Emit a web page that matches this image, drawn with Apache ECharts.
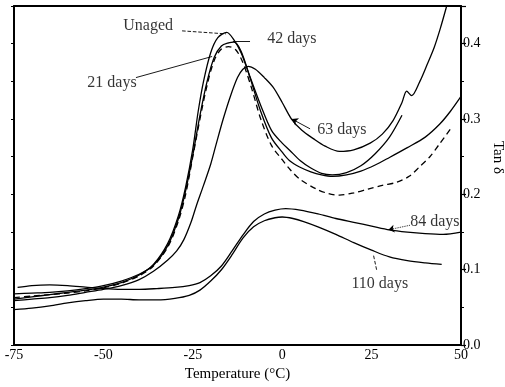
<!DOCTYPE html>
<html>
<head>
<meta charset="utf-8">
<script src="https://cdn.jsdelivr.net/npm/echarts@6/dist/echarts.min.js"></script>
<style>
html,body{margin:0;padding:0;background:#fff;}
#c{width:505px;height:387px;}
</style>
</head>
<body>
<div id="c"></div>
<script>
// ---- data (temperature °C, tan δ) ----
const unaged = [[-75,0.061],[-70,0.064],[-65,0.067],[-60,0.070],[-55,0.073],[-50,0.077],[-45,0.083],[-40,0.093],[-36,0.107],[-32,0.135],[-29,0.172],[-27,0.21],[-25,0.26],[-23.5,0.31],[-22,0.35],[-20,0.388],[-18,0.408],[-15.5,0.415],[-13.5,0.405],[-11.5,0.388],[-9,0.356],[-6,0.318],[-3,0.285],[0,0.268],[2,0.259],[5,0.245],[8,0.235],[11,0.228],[14,0.226],[18,0.229],[22,0.238],[26,0.254],[30,0.276],[33.5,0.305]];
const days21 = [[-75,0.063],[-70,0.065],[-65,0.067],[-60,0.069],[-55,0.072],[-50,0.076],[-45,0.082],[-40,0.092],[-36,0.105],[-32,0.13],[-29,0.165],[-27,0.2],[-25,0.25],[-23,0.3],[-21,0.345],[-19,0.378],[-17,0.393],[-15,0.396],[-13,0.392],[-11,0.375],[-8.5,0.34],[-6,0.3],[-3,0.265],[0,0.246],[2.2,0.233],[5,0.22],[9.6,0.207],[13,0.201],[16,0.199],[20,0.202],[24,0.207],[28,0.212],[32,0.216],[35.5,0.224],[38.5,0.237],[41.3,0.25],[44,0.267],[47.4,0.289]];
const days42 = [[-75,0.068],[-70,0.069],[-65,0.070],[-60,0.072],[-55,0.075],[-50,0.079],[-45,0.085],[-40,0.094],[-36,0.106],[-32,0.132],[-29,0.168],[-27,0.205],[-25,0.252],[-23,0.305],[-21,0.35],[-19,0.382],[-17,0.397],[-15,0.401],[-13.5,0.402],[-11.5,0.39],[-9,0.355],[-6,0.31],[-3,0.275],[0,0.256],[2,0.245],[5,0.236],[8,0.23],[11,0.226],[14,0.224],[18,0.226],[22,0.231],[26,0.239],[30,0.249],[35,0.262],[40,0.276],[44,0.293],[47,0.31],[50,0.33]];
const days63 = [[-75,0.059],[-70,0.061],[-65,0.063],[-60,0.066],[-55,0.07],[-50,0.074],[-45,0.079],[-40,0.087],[-36,0.098],[-32,0.113],[-29.5,0.125],[-27.5,0.14],[-25.5,0.163],[-24,0.185],[-22,0.212],[-20,0.24],[-18.5,0.266],[-16.5,0.3],[-14.5,0.33],[-12.5,0.355],[-11,0.366],[-9.5,0.37],[-7.5,0.366],[-5,0.355],[-2.5,0.342],[0,0.322],[2.6,0.30],[5.5,0.285],[8.7,0.274],[12,0.264],[16,0.257],[20,0.259],[24.6,0.268],[28,0.28],[31,0.298],[33.5,0.322],[34.8,0.337],[36.2,0.331],[38.5,0.35],[40.5,0.372],[42.5,0.395],[44.2,0.42],[46,0.45]];
const days84 = [[-74,0.0765],[-70,0.079],[-65,0.08],[-60,0.079],[-55,0.077],[-50,0.075],[-45,0.074],[-40,0.074],[-35,0.075],[-30,0.0765],[-26,0.079],[-23,0.083],[-20,0.092],[-17,0.105],[-14,0.125],[-11,0.146],[-8,0.164],[-5,0.174],[-2,0.179],[1,0.181],[5,0.179],[10,0.174],[15,0.168],[20,0.163],[25,0.158],[30,0.153],[35,0.15],[40,0.148],[45,0.147],[50,0.15]];
const days110 = [[-75,0.047],[-70,0.049],[-65,0.052],[-60,0.056],[-55,0.059],[-50,0.061],[-45,0.061],[-40,0.06],[-35,0.06],[-30,0.062],[-26,0.066],[-23,0.073],[-20,0.085],[-17,0.1],[-14,0.12],[-11,0.142],[-8,0.157],[-5,0.165],[-2,0.169],[0,0.17],[3,0.168],[6,0.164],[10,0.157],[15,0.147],[20,0.136],[25,0.126],[30,0.117],[35,0.112],[40,0.109],[44.6,0.107]];

const xTicks = [-75, -50, -25, 0, 25, 50];
const yTicks = [0.0, 0.1, 0.2, 0.3, 0.4];

// annotation labels (data coordinates) and leader lines
const labelNames = ['Unaged', '42 days', '21 days', '63 days', '84 days', '110 days'];
const labelPos = [[-37.5,0.424],[2.7,0.407],[-47.6,0.348],[16.7,0.286],[42.7,0.163],[27.3,0.081]];
const leaderFrom = [[-28.0,0.417],[-13.8,0.403],[-40.9,0.355],[7.8,0.287],[35.7,0.159],[26.4,0.100]];
const leaderTo   = [[-15.7,0.413],[-9.0,0.403],[-19.6,0.383],[2.7,0.30],[29.7,0.153],[25.5,0.12]];
const leaderType = ['dashed','solid','solid','solid','dotted','dashed'];
const leaderArrow = [false,false,false,true,true,false];

const FONT = '"Liberation Serif", "Times New Roman", serif';

function curve(name, data, dashed) {
  return {
    name: name, type: 'line', data: data, showSymbol: false, smooth: 0.3,
    clip: true, silent: true,
    lineStyle: { color: '#000', width: 1.3, type: dashed ? [6, 4] : 'solid' }
  };
}

const leaders = labelNames.map((n, i) => ([
  { coord: leaderFrom[i], symbol: 'none' },
  { coord: leaderTo[i], symbol: leaderArrow[i] ? 'arrow' : 'none', symbolSize: 6,
    lineStyle: { type: leaderType[i] } }
]));

const chart = echarts.init(document.getElementById('c'), null, { renderer: 'canvas' });
chart.setOption({
  backgroundColor: '#fff',
  animation: false,
  grid: { left: 14, right: 44, top: 6, bottom: 35, containLabel: false },
  xAxis: [{
    type: 'value', min: xTicks[0], max: xTicks[xTicks.length - 1], interval: 25,
    axisLine: { show: true, onZero: false, lineStyle: { color: '#000', width: 2 } },
    axisTick: { show: false },
    splitLine: { show: false },
    axisLabel: { color: '#000', fontFamily: FONT, fontSize: 14, margin: 3 },
    name: 'Temperature (°C)', nameLocation: 'middle', nameGap: 19,
    nameTextStyle: { color: '#000', fontFamily: FONT, fontSize: 15 }
  }, {
    type: 'value', position: 'top', min: xTicks[0], max: xTicks[xTicks.length - 1],
    axisLine: { show: true, onZero: false, lineStyle: { color: '#000', width: 2 } },
    axisTick: { show: false }, axisLabel: { show: false }, splitLine: { show: false }
  }],
  yAxis: [{
    type: 'value', position: 'right', min: yTicks[0], max: 0.45, interval: 0.1,
    axisLine: { show: true, onZero: false, lineStyle: { color: '#000', width: 2 } },
    axisTick: { show: true, inside: false, length: 5, lineStyle: { color: '#000', width: 1.2 } },
    minorTick: { show: true, splitNumber: 2, length: 3, lineStyle: { color: '#000', width: 1 } },
    splitLine: { show: false },
    axisLabel: {
      color: '#000', fontFamily: FONT, fontSize: 14, margin: 2,
      formatter: v => (yTicks.some(t => Math.abs(t - v) < 1e-9) ? v.toFixed(1) : '')
    }
  }, {
    type: 'value', position: 'left', min: yTicks[0], max: 0.45, interval: 0.05,
    axisLine: { show: true, onZero: false, lineStyle: { color: '#000', width: 2 } },
    axisTick: { show: true, length: 3, lineStyle: { color: '#000', width: 1 } },
    axisLabel: { show: false }, splitLine: { show: false }
  }],
  graphic: [{
    type: 'text', left: 490, top: 141, rotation: -Math.PI / 2,
    style: { text: 'Tan δ', fill: '#000', font: '15px ' + FONT }
  }],
  series: [
    curve('Unaged', unaged, false),
    curve('21 days', days21, true),
    curve('42 days', days42, false),
    curve('63 days', days63, false),
    curve('84 days', days84, false),
    curve('110 days', days110, false),
    {
      type: 'scatter', silent: true, symbolSize: 1,
      itemStyle: { color: 'rgba(0,0,0,0)' },
      data: labelNames.map((n, i) => ({ name: n, value: labelPos[i] })),
      label: { show: true, position: 'inside', formatter: '{b}', color: '#000',
               fontFamily: FONT, fontSize: 16 },
      markLine: {
        silent: true, symbol: 'none', animation: false,
        label: { show: false },
        lineStyle: { color: '#000', width: 0.9 },
        data: leaders
      }
    }
  ]
});
</script>
</body>
</html>
